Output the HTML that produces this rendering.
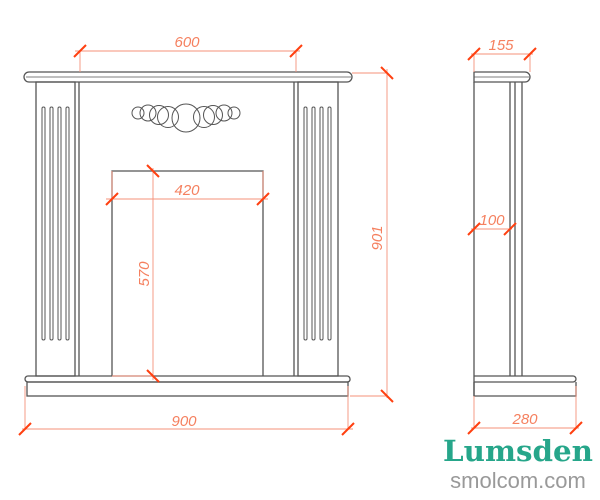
<!DOCTYPE html>
<html><head><style>html,body{margin:0;padding:0;background:#fff}svg{display:block}</style></head><body>
<svg width="600" height="500" viewBox="0 0 600 500" xmlns="http://www.w3.org/2000/svg">
<g fill="none" stroke="#555" stroke-width="1.3">
<path d="M29,72 H347 A5,5 0 0 1 347,82 H29 A5,5 0 0 1 29,72 Z"/>
<line x1="26" y1="77" x2="351" y2="77" stroke-width="0.8"/>
<rect x="36" y="82" width="39" height="294"/>
<line x1="79" y1="82" x2="79" y2="376"/>
<rect x="298" y="82" width="40" height="294"/>
<line x1="294" y1="82" x2="294" y2="376"/>
<g stroke-width="1">
<rect x="42" y="107" width="3" height="233" rx="1.5"/><rect x="50" y="107" width="3" height="233" rx="1.5"/><rect x="58" y="107" width="3" height="233" rx="1.5"/><rect x="66" y="107" width="3" height="233" rx="1.5"/>
<rect x="304" y="107" width="3" height="233" rx="1.5"/><rect x="312" y="107" width="3" height="233" rx="1.5"/><rect x="320" y="107" width="3" height="233" rx="1.5"/><rect x="328" y="107" width="3" height="233" rx="1.5"/>
</g>
<polyline points="112,376 112,171 263,171 263,376"/>
<path d="M28,376 H347 A3,3 0 0 1 350,379 V380 A3,3 0 0 1 347,382 H28 A3,3 0 0 1 25,379 A3,3 0 0 1 28,376 Z"/>
<rect x="27" y="382" width="321" height="14"/>
<g stroke-width="1">
<circle cx="138" cy="113" r="6"/><circle cx="148" cy="113" r="8"/><circle cx="159" cy="115" r="9.5"/><circle cx="168" cy="117" r="10.5"/>
<circle cx="186" cy="118" r="14"/>
<circle cx="204" cy="117" r="10.5"/><circle cx="213" cy="115" r="9.5"/><circle cx="224" cy="113" r="8"/><circle cx="234" cy="113" r="6"/>
</g>
<path d="M474,72 H525 A5,5 0 0 1 525,82 H474 Z"/>
<line x1="474" y1="77" x2="529" y2="77" stroke-width="0.8"/>
<line x1="474" y1="82" x2="474" y2="396"/>
<line x1="510" y1="82" x2="510" y2="376"/>
<line x1="515" y1="82" x2="515" y2="376"/>
<line x1="522" y1="82" x2="522" y2="376"/>
<path d="M474,376 H573 A3,3 0 0 1 573,382 H474"/>
<polyline points="474,382 474,396 576,396 576,382"/>
</g>
<g stroke="#f5917a" stroke-width="0.9" fill="none">
<line x1="75" y1="51" x2="300" y2="51"/><line x1="80" y1="51" x2="80" y2="72"/><line x1="296" y1="51" x2="296" y2="72"/>
<line x1="106" y1="199" x2="268" y2="199"/><line x1="112" y1="199" x2="112" y2="171"/><line x1="263" y1="199" x2="263" y2="171"/>
<line x1="153" y1="168" x2="153" y2="380"/><line x1="112" y1="376" x2="153" y2="376"/>
<line x1="387" y1="69" x2="387" y2="398"/><line x1="352" y1="73" x2="387" y2="73"/><line x1="350" y1="396" x2="387" y2="396"/>
<line x1="22" y1="429" x2="353" y2="429"/><line x1="25" y1="386" x2="25" y2="429"/><line x1="348" y1="386" x2="348" y2="429"/>
<line x1="471" y1="54" x2="533" y2="54"/><line x1="474" y1="54" x2="474" y2="72"/><line x1="530" y1="54" x2="530" y2="72"/>
<line x1="471" y1="229" x2="512" y2="229"/>
<line x1="471" y1="428" x2="579" y2="428"/><line x1="474" y1="396" x2="474" y2="428"/><line x1="576" y1="386" x2="576" y2="428"/>
</g>
<g stroke="#ff4010" stroke-width="2">
<line x1="74" y1="57" x2="86" y2="45"/><line x1="290" y1="57" x2="302" y2="45"/>
<line x1="106" y1="205" x2="118" y2="193"/><line x1="257" y1="205" x2="269" y2="193"/>
<line x1="147" y1="165" x2="159" y2="177"/><line x1="147" y1="370" x2="159" y2="382"/>
<line x1="381" y1="67" x2="393" y2="79"/><line x1="381" y1="390" x2="393" y2="402"/>
<line x1="19" y1="435" x2="31" y2="423"/><line x1="342" y1="435" x2="354" y2="423"/>
<line x1="468" y1="60" x2="480" y2="48"/><line x1="524" y1="60" x2="536" y2="48"/>
<line x1="468" y1="235" x2="480" y2="223"/><line x1="504" y1="235" x2="516" y2="223"/>
<line x1="468" y1="434" x2="480" y2="422"/><line x1="570" y1="434" x2="582" y2="422"/>
</g>
<g fill="#f5805f" font-family="Liberation Sans, sans-serif" font-size="15" font-style="italic" text-anchor="middle">
<text x="187" y="47">600</text>
<text x="187" y="195">420</text>
<text x="184" y="426">900</text>
<text x="501" y="50">155</text>
<text x="492" y="225">100</text>
<text x="525" y="424">280</text>
<text transform="translate(149,274) rotate(-90)">570</text>
<text transform="translate(382,238) rotate(-90)">901</text>
</g>
<text x="518" y="461" text-anchor="middle" font-family="DejaVu Serif, Liberation Serif, serif" font-weight="bold" font-size="29" fill="#26a68a" textLength="150" lengthAdjust="spacingAndGlyphs">Lumsden</text>
<text x="518" y="488" text-anchor="middle" font-family="Liberation Sans, sans-serif" font-size="22" fill="#999">smolcom.com</text>
</svg>
</body></html>
